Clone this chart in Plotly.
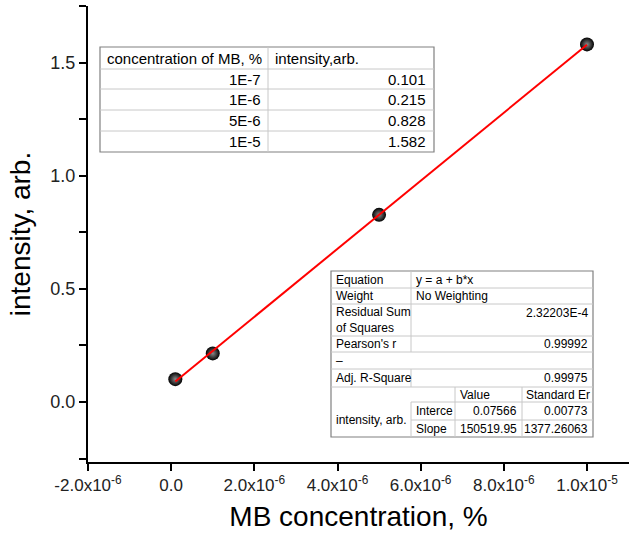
import plotly.graph_objects as go

# ---- data ----
conc = [1e-7, 1e-6, 5e-6, 1e-5]
intensity = [0.101, 0.215, 0.828, 1.582]
conc_labels = ["1E-7", "1E-6", "5E-6", "1E-5"]
int_labels = ["0.101", "0.215", "0.828", "1.582"]

intercept = 0.07566
slope = 150519.95
intercept_err = "0.00773"
slope_err = "1377.26063"
rss = "2.32203E-4"
pearson = "0.99992"
adj_r2 = "0.99975"

x_tickvals = [-2e-6, 0, 2e-6, 4e-6, 6e-6, 8e-6, 1e-5]
x_ticktext = ["-2.0x10<sup>-6</sup>", "0.0", "2.0x10<sup>-6</sup>", "4.0x10<sup>-6</sup>",
              "6.0x10<sup>-6</sup>", "8.0x10<sup>-6</sup>", "1.0x10<sup>-5</sup>"]
y_tickvals = [0.0, 0.5, 1.0, 1.5]
y_ticktext = ["0.0", "0.5", "1.0", "1.5"]

W, H = 629, 537
L, R, T, B = 88, 0, 6, 75
FONT = "Liberation Sans, Arial, sans-serif"

fit_x = [conc[0], conc[-1]]
fit_y = [intercept + slope * v for v in fit_x]

fig = go.Figure()
fig.add_trace(go.Scatter(
    x=conc, y=intensity, mode="markers",
    marker=dict(size=14, color="#000000",
                gradient=dict(type="radial", color="#8a8a8a"),
                line=dict(width=0)),
    showlegend=False, hoverinfo="x+y"))
fig.add_trace(go.Scatter(
    x=fit_x, y=fit_y, mode="lines",
    line=dict(color="#ff0000", width=2),
    showlegend=False))

# ---- helpers for pixel-based table drawing ----
pw = W - L - R
ph = H - T - B
def px(x):
    return (x - L) / pw
def py(y):
    return (H - B - y) / ph

shapes = []
annots = []

def rect(x0, y0, x1, y1, color="#808080", width=1.2, fill="white"):
    shapes.append(dict(type="rect", xref="paper", yref="paper",
                       x0=px(x0), x1=px(x1), y0=py(y0), y1=py(y1),
                       line=dict(color=color, width=width), fillcolor=fill, layer="above"))

def hline(x0, x1, y, color="#c8c8c8", width=1):
    shapes.append(dict(type="line", xref="paper", yref="paper",
                       x0=px(x0), x1=px(x1), y0=py(y), y1=py(y),
                       line=dict(color=color, width=width), layer="above"))

def vline(x, y0, y1, color="#c8c8c8", width=1):
    shapes.append(dict(type="line", xref="paper", yref="paper",
                       x0=px(x), x1=px(x), y0=py(y0), y1=py(y1),
                       line=dict(color=color, width=width), layer="above"))

def text(t, x, y, anchor="left", size=13, valign="middle"):
    annots.append(dict(text=t, xref="paper", yref="paper", x=px(x), y=py(y),
                       xanchor=anchor, yanchor=valign, showarrow=False,
                       font=dict(family=FONT, size=size, color="#000000"),
                       align=anchor if anchor != "center" else "center"))

# ---- table 1: data ----
t1x0, t1x1, t1xm = 100, 434, 268
t1rows = [47, 69, 89, 110, 131, 152]
fs1 = 15
rect(t1x0, t1rows[0], t1x1, t1rows[-1])
for yy in t1rows[1:-1]:
    hline(t1x0, t1x1, yy)
vline(t1xm, t1rows[0], t1rows[-1])
text("concentration of MB, %", t1x0 + 5, (t1rows[0] + t1rows[1]) / 2, size=fs1)
text("intensity,arb.", t1xm + 5, (t1rows[0] + t1rows[1]) / 2, size=fs1)
for i in range(len(conc_labels)):
    yc = (t1rows[i + 1] + t1rows[i + 2]) / 2
    text(conc_labels[i], t1xm - 5, yc, anchor="right", size=fs1)
    text(int_labels[i], t1x1 - 6, yc, anchor="right", size=fs1)

# ---- table 2: fit results ----
a, b_ = 331, 593
c1, c2, c3 = 411, 455, 522
r = [271, 288, 304, 336, 352, 369, 387, 402, 420, 437]
rect(a, r[0], b_, r[-1])
for yy in r[1:7]:
    hline(a, b_, yy)
hline(c1, b_, r[7])
hline(c1, b_, r[8])
for i in [0, 1, 2, 3, 5]:
    vline(c1, r[i], r[i + 1])
vline(c1, r[7], r[9])
vline(c2, r[6], r[9])
vline(c3, r[6], r[9])
fs = 12
def mid(i):
    return (r[i] + r[i + 1]) / 2
text("Equation", a + 3, mid(0), size=fs)
text("y = a + b*x", c1 + 3, mid(0), size=fs)
text("Weight", a + 3, mid(1), size=fs)
text("No Weighting", c1 + 3, mid(1), size=fs)
text("Residual Sum<br>of Squares", a + 3, mid(2), size=fs)
text(rss, b_ - 3, r[2] + 9, anchor="right", size=fs)
text("Pearson's r", a + 3, mid(3), size=fs)
text(pearson, b_ - 3, mid(3), anchor="right", size=fs)
text("–", a + 3, mid(4), size=fs)
text("Adj. R-Square", a + 3, mid(5), size=fs)
text(adj_r2, b_ - 3, mid(5), anchor="right", size=fs)
text("Value", c2 + 3, mid(6), size=fs)
text("Standard Er", c3 + 2, mid(6), size=fs)
text("intensity, arb.", a + 3, (r[7] + r[9]) / 2, size=fs)
text("Interce", c1 + 3, mid(7), size=fs)
text("Slope", c1 + 3, mid(8), size=fs)
text(f"{intercept:.5f}", c3 - 3, mid(7), anchor="right", size=fs)
text(f"{slope:.2f}", c3 - 3, mid(8), anchor="right", size=fs)
text(intercept_err, b_ - 3, mid(7), anchor="right", size=fs)
text(slope_err, b_ - 3, mid(8), anchor="right", size=fs)

fig.update_layout(
    width=W, height=H,
    margin=dict(l=L, r=R, t=T, b=B, autoexpand=False),
    paper_bgcolor="white", plot_bgcolor="white",
    font=dict(family=FONT, color="#000000"),
    shapes=shapes, annotations=annots,
    xaxis=dict(range=[-2e-6, 1.101e-5], tickvals=x_tickvals, ticktext=x_ticktext,
               showgrid=False, zeroline=False, showline=True, linecolor="black",
               linewidth=2, ticks="outside", ticklen=7, tickwidth=2, tickcolor="black",
               tickfont=dict(size=17, family=FONT, color="#222222"),
               title=dict(text="MB concentration, %", font=dict(size=28, family=FONT),
                          standoff=12)),
    yaxis=dict(range=[-0.2655, 1.752], tickvals=y_tickvals, ticktext=y_ticktext,
               showgrid=False, zeroline=False, showline=True, linecolor="black",
               linewidth=2, ticks="outside", ticklen=7, tickwidth=2, tickcolor="black",
               tickfont=dict(size=18, family=FONT, color="#222222"),
               minor=dict(dtick=0.25, tick0=0, ticks="outside", ticklen=7, tickwidth=2,
                          tickcolor="black", showgrid=False),
               title=dict(text="intensity, arb.", font=dict(size=28, family=FONT),
                          standoff=12)),
)

fig.write_html("out.html")
